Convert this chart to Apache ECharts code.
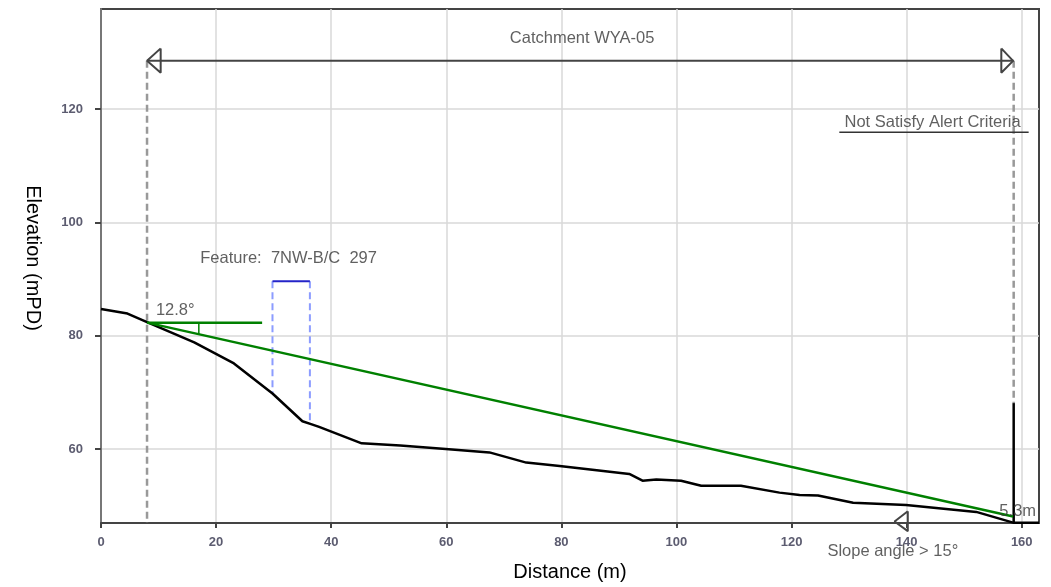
<!DOCTYPE html>
<html>
<head>
<meta charset="utf-8">
<script src="https://cdn.jsdelivr.net/npm/echarts@6/dist/echarts.min.js"></script>
<style>
    html, body {margin: 0; padding: 0; background: #fff;}
    #main {width: 1051px; height: 587px;}
</style>
</head>
<body>
<div id="main"></div>
<script>
    // ground profile (distance m, elevation mPD)
    var profileDist = [0, 4.6, 8.0, 16.2, 23.1, 29.8, 35.0, 36.5, 37.9, 45.3, 52.0, 59.9, 67.5, 73.9, 79.7, 85.0, 91.8, 94.1, 96.5, 100.8, 104.3, 111.2, 117.9, 121.4, 124.6, 130.7, 139.9, 152.1, 158.5, 163];
    var profileElev = [84.7, 83.9, 82.4, 78.8, 75.1, 69.8, 64.9, 64.4, 63.9, 61.0, 60.6, 60.0, 59.4, 57.6, 57.0, 56.4, 55.6, 54.4, 54.6, 54.4, 53.5, 53.5, 52.3, 51.9, 51.8, 50.5, 50.1, 48.9, 47.0, 47.0];

    // catchment limits and slope line
    var catchStart = 8.0, catchEnd = 158.6, catchElev = 128.5;
    var slopeTop = [8.0, 82.3], slopeToe = [158.5, 48.1];
    var slopeFlatEnd = 28, slopeTick = 17;
    var toeMarkTop = 68.1;

    // feature 7NW-B/C 297
    var featureDist = [29.8, 36.3];
    var featureTop = 89.6;
    var featureBottom = [69.8, 64.5];

    var xTicks = [0, 20, 40, 60, 80, 100, 120, 140, 160];
    var yTicks = [60, 80, 100, 120];

    var texts = [
        [83.6, 132.5, 'Catchment WYA-05'],
        [144.5, 117.7, 'Not Satisfy Alert Criteria'],
        [32.6, 93.6, 'Feature:  7NW-B/C  297'],
        [12.9, 84.4, '12.8°'],
        [159.3, 48.9, '5.3m'],
        [137.6, 42.0, 'Slope angle > 15°']
    ];

    var yMin = 46.94, yMax = 137.65;

    function seg(pts, color, width, type, z) {
        return {
            type: 'line',
            data: pts,
            symbol: 'none',
            silent: true,
            clip: false,
            z: z || 2,
            lineStyle: {color: color, width: width, type: type || 'solid'}
        };
    }

    var profile = [];
    for (var i = 0; i < profileDist.length; i++) {
        profile.push([profileDist[i], profileElev[i]]);
    }

    var chart = echarts.init(document.getElementById('main'));
    chart.setOption({
        animation: false,
        textStyle: {fontFamily: 'Liberation Sans, Arial, sans-serif'},
        grid: {
            left: 101, right: 12, top: 9, bottom: 64,
            show: true, borderColor: '#444', borderWidth: 2
        },
        xAxis: {
            type: 'value', min: 0, max: 163,
            name: 'Distance (m)', nameLocation: 'middle', nameGap: 39,
            nameTextStyle: {fontSize: 20, color: '#000'},
            axisLine: {lineStyle: {color: '#444', width: 2}},
            axisTick: {show: true, length: 5, customValues: xTicks, lineStyle: {color: '#444', width: 2}},
            axisLabel: {customValues: xTicks, margin: 13, fontSize: 13, fontWeight: 'bold', color: '#5c5c70'},
            splitLine: {show: true, lineStyle: {color: '#d9d9d9', width: 1.5}}
        },
        yAxis: {
            type: 'value', min: yMin, max: yMax,
            name: 'Elevation (mPD)', nameLocation: 'middle', nameGap: 58, nameRotate: -90,
            nameTextStyle: {fontSize: 20, color: '#000', padding: [0, 16, 0, 0]},
            axisLine: {show: true, lineStyle: {color: '#777', width: 2}},
            axisTick: {show: true, length: 6, customValues: yTicks, lineStyle: {color: '#444', width: 2}},
            axisLabel: {customValues: yTicks, margin: 18, fontSize: 13, fontWeight: 'bold', color: '#5c5c70'},
            splitLine: {show: true, lineStyle: {color: '#d9d9d9', width: 1.5}}
        },
        series: [
            // catchment limits
            seg([[catchStart, catchElev], [catchStart, yMin]], '#999', 2.5, [7, 4]),
            seg([[catchEnd, catchElev], [catchEnd, toeMarkTop]], '#999', 2.5, [7, 4]),
            seg([[catchStart, catchElev], [catchEnd, catchElev]], '#444', 2),
            seg([[10.37, 130.7], [catchStart, catchElev], [10.37, 126.4], [10.37, 130.7]], '#444', 2),
            seg([[156.45, 130.7], [catchEnd - 0.1, catchElev], [156.45, 126.4], [156.45, 130.7]], '#444', 2),
            // slope angle marker at toe
            seg([[140.2, 49.0], [137.9, 47.2], [140.2, 45.5], [140.2, 49.0]], '#444', 2, 'solid', 5),
            // alert text underline
            seg([[128.3, 115.9], [161.2, 115.9]], '#333', 1.5),
            // feature
            seg([[featureDist[0], featureTop], [featureDist[0], featureBottom[0]]], '#8c9cff', 2, [7, 4]),
            seg([[featureDist[1], featureTop], [featureDist[1], featureBottom[1]]], '#8c9cff', 2, [7, 4]),
            seg([[featureDist[0], featureTop], [featureDist[1], featureTop]], '#2424c8', 2),
            // profile
            seg(profile, '#000', 2.5, 'solid', 3),
            seg([[catchEnd, 47.0], [catchEnd, toeMarkTop]], '#000', 2.5, 'solid', 3),
            // slope line
            seg([slopeTop, slopeToe], '#008000', 2.5, 'solid', 4),
            seg([slopeTop, [slopeFlatEnd, slopeTop[1]]], '#008000', 2.5, 'solid', 4),
            seg([[slopeTick, slopeTop[1]], [slopeTick, 80.2]], '#008000', 1.5, 'solid', 4),
            {
                type: 'scatter',
                data: texts,
                symbolSize: 0,
                silent: true,
                clip: false,
                z: 6,
                label: {
                    show: true,
                    position: 'inside',
                    fontSize: 16.5,
                    color: '#383838',
                    formatter: function (p) {
                        return p.data[2];
                    }
                }
            }
        ]
    });
</script>
</body>
</html>
